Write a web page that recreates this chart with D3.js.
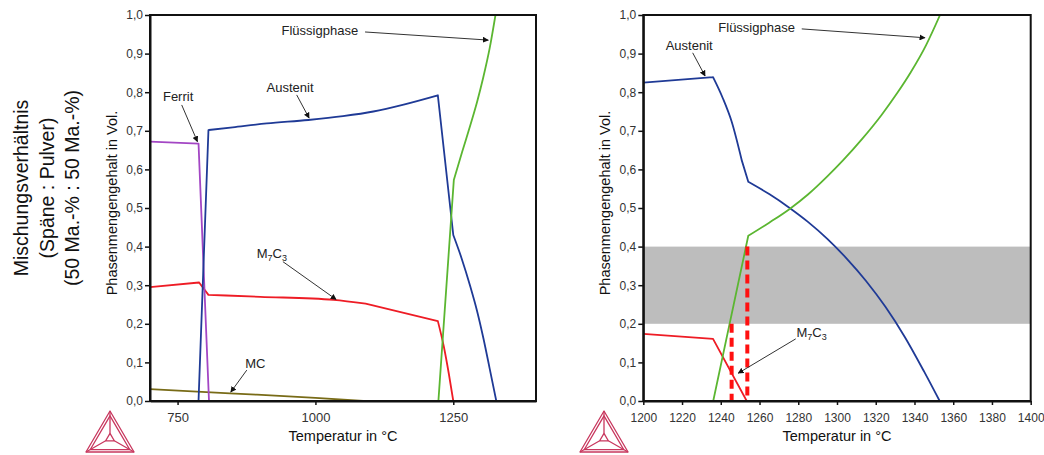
<!DOCTYPE html>
<html>
<head>
<meta charset="utf-8">
<script src="https://cdn.jsdelivr.net/npm/d3@7"></script>
<style>
  html, body { margin: 0; padding: 0; background: #fff; }
  svg { display: block; font-family: "Liberation Sans", Arial, sans-serif; }
</style>
</head>
<body>
<svg id="chart" width="1044" height="455"></svg>
<script>
// ---- Data: phase fractions (Vol.) over temperature (°C) ----
// Each phase is a list of pieces; a piece is drawn as one smooth run,
// pieces meet at the sharp bends of the curve.
const yTicks = [0, 0.1, 0.2, 0.3, 0.4, 0.5, 0.6, 0.7, 0.8, 0.9, 1.0];
const leftXTicks = [750, 1000, 1250];
const rightXTicks = [1200, 1220, 1240, 1260, 1280, 1300, 1320, 1340, 1360, 1380, 1400];

// Left panel (700–1400 °C)
const ferritL = [
  [[700, 0.672], [788, 0.667]],
  [[788, 0.667], [807, 0]]
];
const austenitL = [
  [[788, 0], [806, 0.702]],
  [[806, 0.702], [850, 0.709], [912, 0.719], [987, 0.728], [1050, 0.738], [1105, 0.750], [1160, 0.768], [1222, 0.792]],
  [[1222, 0.792], [1250, 0.430]],
  [[1250, 0.430], [1265, 0.370], [1281, 0.296], [1293, 0.234], [1305, 0.160], [1316, 0.084], [1328, 0]]
];
const fluessigL = [
  [[1223, 0], [1251, 0.573]],
  [[1251, 0.573], [1266, 0.645], [1281, 0.715], [1293, 0.774], [1304, 0.836], [1316, 0.914], [1326.5, 1.0]]
];
const m7c3L = [
  [[700, 0.295], [789, 0.307]],
  [[789, 0.307], [806, 0.275]],
  [[806, 0.275], [900, 0.270], [1033, 0.262], [1091, 0.252]],
  [[1091, 0.252], [1222, 0.207]],
  [[1222, 0.207], [1233, 0.140], [1242, 0.070], [1250, 0]]
];
const mcL = [
  [[700, 0.031], [845, 0.020], [1000, 0.008], [1087, 0]]
];

// Right panel (1200–1400 °C)
const austenitR = [
  [[1200, 0.825], [1236, 0.839]],
  [[1236, 0.839], [1241, 0.785], [1245.6, 0.724], [1250.8, 0.624]],
  [[1250.8, 0.624], [1254.2, 0.568]],
  [[1254.2, 0.568], [1265, 0.536], [1275, 0.502], [1285, 0.464], [1295, 0.420], [1305, 0.369],
   [1315, 0.311], [1325, 0.244], [1335, 0.166], [1345, 0.076], [1353, 0]]
];
const fluessigR = [
  [[1236.1, 0], [1254.2, 0.428]],
  [[1254.2, 0.428], [1265, 0.462], [1275.4, 0.497], [1285, 0.535], [1295, 0.582], [1303.2, 0.624],
   [1313, 0.679], [1323, 0.741], [1331, 0.797], [1338, 0.851], [1346, 0.922], [1353.2, 1.0]]
];
const m7c3R = [
  [[1200, 0.174], [1236, 0.161]],
  [[1236, 0.161], [1253.4, 0]]
];

// Target window (shaded band) and dashed temperature markers
const bandRange = [0.2, 0.4];
const dashTemps = [1245.6, 1253.7];
const dashTops = [0.2, 0.4];

// Annotation labels: text anchor and arrow (start -> tip), in data units
const notesL = [
  { text: "Flüssigphase", at: [1008, 0.961], from: [1090, 0.956], to: [1313.5, 0.935] },
  { text: "Austenit", at: [954, 0.813], from: [966, 0.793], to: [988.5, 0.733] },
  { text: "Ferrit", at: [751, 0.788], from: [757.5, 0.767], to: [786, 0.672] },
  { text: "M7C3", at: [921, 0.383], from: [941, 0.361], to: [1037.5, 0.263] },
  { text: "MC", at: [891, 0.098], from: [875.5, 0.080], to: [846.5, 0.023] }
];
const notesR = [
  { text: "Austenit", at: [1223.7, 0.922], from: [1225.5, 0.902], to: [1231.9, 0.842] },
  { text: "Flüssigphase", at: [1258.5, 0.969], from: [1281.8, 0.964], to: [1345.4, 0.941] },
  { text: "M7C3", at: [1286.9, 0.178], from: [1278.7, 0.161], to: [1249, 0.072] }
];

const titleLines = ["Mischungsverhältnis", "(Späne : Pulver)", "(50 Ma.-% : 50 Ma.-%)"];

// ---- Styling ----
const COL = {
  blue: "#1f3a96",
  green: "#5bb631",
  red: "#ee1c25",
  purple: "#a346c4",
  olive: "#786b17",
  band: "#bdbdbd",
  dash: "#ff1010",
  logo: "#c8375e",
  text: "#222"
};

const svg = d3.select("#chart");
const fmt = d3.formatLocale({ decimal: ",", thousands: ".", grouping: [3], currency: ["", ""] }).format(".1f");

svg.append("defs").append("marker")
  .attr("id", "arrowhead")
  .attr("viewBox", "0 0 10 10")
  .attr("refX", 9).attr("refY", 5)
  .attr("markerWidth", 6).attr("markerHeight", 6)
  .attr("markerUnits", "userSpaceOnUse")
  .attr("orient", "auto")
  .append("path").attr("d", "M0,0 L10,5 L0,10 z").attr("fill", "#111");

// Rotated side title
const title = svg.append("g").attr("transform", "translate(0,188)");
titleLines.forEach((t, i) => {
  title.append("text")
    .attr("transform", `translate(${21 + i * 25.5},0) rotate(-90)`)
    .attr("text-anchor", "middle")
    .attr("dominant-baseline", "central")
    .attr("font-size", 19.5)
    .attr("fill", "#111")
    .text(t);
});

function drawLogo(g) {
  // Thermo-Calc style triangle emblem, drawn in a 48 x 42 box
  const A = [24, 0], B = [0, 41], C = [48, 41];
  const cx = (A[0] + B[0] + C[0]) / 3, cy = (A[1] + B[1] + C[1]) / 3;
  const sc = (p, k) => [cx + (p[0] - cx) * k, cy + (p[1] - cy) * k];
  const tri = (k) => { const a = sc(A, k), b = sc(B, k), c = sc(C, k);
    return `M${a}L${b}L${c}Z`; };
  const st = { stroke: COL.logo, fill: "none", "stroke-width": 1.3, "stroke-linejoin": "round" };
  const add = d => { const p = g.append("path").attr("d", d); Object.entries(st).forEach(([k, v]) => p.attr(k, v)); };
  add(tri(1));
  add(tri(0.82));
  add(tri(0.18));
  [A, B, C].forEach(p => { const q = sc(p, 0.18); add(`M${p}L${q}`); });
}

function panel(cfg) {
  const x = d3.scaleLinear().domain(cfg.domain).range([cfg.x0, cfg.x1]);
  const y = d3.scaleLinear().domain([0, 1]).range([cfg.y1, cfg.y0]);
  const g = svg.append("g");

  // shaded band
  if (cfg.band) {
    g.append("rect")
      .attr("x", x(cfg.domain[0])).attr("width", x(cfg.domain[1]) - x(cfg.domain[0]))
      .attr("y", y(cfg.band[1])).attr("height", y(cfg.band[0]) - y(cfg.band[1]))
      .attr("fill", COL.band);
  }

  const line = d3.line().x(d => x(d[0])).y(d => y(d[1])).curve(d3.curveMonotoneX);
  const clipId = "clip" + cfg.id;
  svg.select("defs").append("clipPath").attr("id", clipId)
    .append("rect").attr("x", cfg.x0).attr("y", cfg.y0)
    .attr("width", cfg.x1 - cfg.x0).attr("height", cfg.y1 - cfg.y0);
  const lines = g.append("g").attr("clip-path", `url(#${clipId})`);
  cfg.series.forEach(s => {
    const d = s.data.map(piece => line(piece)).join("");
    lines.append("path")
      .attr("d", d)
      .attr("fill", "none")
      .attr("stroke", s.color)
      .attr("stroke-width", 1.8)
      .attr("stroke-linejoin", "round")
      .attr("stroke-linecap", "round");
  });

  // dashed temperature markers
  if (cfg.dashes) {
    cfg.dashes.temps.forEach((t, i) => {
      g.append("line")
        .attr("x1", x(t)).attr("x2", x(t))
        .attr("y1", y(cfg.dashes.tops[i])).attr("y2", y(0))
        .attr("stroke", COL.dash).attr("stroke-width", 4)
        .attr("stroke-dasharray", "9,5");
    });
  }

  // frame
  g.append("rect")
    .attr("x", cfg.x0).attr("y", cfg.y0)
    .attr("width", cfg.x1 - cfg.x0).attr("height", cfg.y1 - cfg.y0)
    .attr("fill", "none").attr("stroke", "#111").attr("stroke-width", 2);

  // axes
  const ax = g.append("g").attr("transform", `translate(${cfg.x0},0)`)
    .call(d3.axisLeft(y).tickValues(yTicks).tickFormat(fmt).tickSize(5).tickSizeOuter(0).tickPadding(2));
  const bx = g.append("g").attr("transform", `translate(0,${cfg.y1})`)
    .call(d3.axisBottom(x).tickValues(cfg.ticks).tickFormat(d3.format("d")).tickSize(4).tickSizeOuter(0).tickPadding(8));
  [ax, bx].forEach(a => {
    a.select(".domain").attr("stroke", "#111").attr("stroke-width", 2);
    a.selectAll(".tick line").attr("stroke", "#111").attr("stroke-width", 1.5);
    a.selectAll(".tick text").attr("fill", "#333").attr("font-size", 12)
      .attr("font-family", "'Liberation Sans', Arial, sans-serif");
  });
  bx.selectAll(".tick text").attr("font-size", cfg.xFont);

  // axis titles
  g.append("text")
    .attr("x", (cfg.x0 + cfg.x1) / 2).attr("y", 441)
    .attr("text-anchor", "middle").attr("font-size", 14.5).attr("fill", "#111")
    .text("Temperatur in °C");
  g.append("text")
    .attr("transform", `translate(${cfg.yTitleX},${(cfg.y0 + cfg.y1) / 2 - 5}) rotate(-90)`)
    .attr("text-anchor", "middle").attr("dominant-baseline", "central")
    .attr("font-size", 14.5).attr("fill", "#111")
    .text("Phasenmengengehalt in Vol.");

  // annotations
  cfg.notes.forEach(n => {
    g.append("line")
      .attr("x1", x(n.from[0])).attr("y1", y(n.from[1]))
      .attr("x2", x(n.to[0])).attr("y2", y(n.to[1]))
      .attr("stroke", "#333").attr("stroke-width", 1)
      .attr("marker-end", "url(#arrowhead)");
    const t = g.append("text")
      .attr("x", x(n.at[0])).attr("y", y(n.at[1]))
      .attr("text-anchor", "middle").attr("dy", "0.35em")
      .attr("font-size", 13).attr("fill", COL.text);
    if (n.text === "M7C3") {
      t.append("tspan").text("M");
      t.append("tspan").attr("font-size", 9).attr("dy", 3).text("7");
      t.append("tspan").attr("dy", -3).text("C");
      t.append("tspan").attr("font-size", 9).attr("dy", 3).text("3");
    } else {
      t.text(n.text);
    }
  });

  drawLogo(svg.append("g").attr("transform", `translate(${cfg.logo[0]},${cfg.logo[1]})`));
}

panel({
  id: "L", x0: 150, x1: 536, y0: 15, y1: 401, domain: [700, 1400], ticks: leftXTicks,
  xFont: 13, yTitleX: 112, logo: [86, 411], notes: notesL,
  series: [
    { data: mcL, color: COL.olive },
    { data: m7c3L, color: COL.red },
    { data: ferritL, color: COL.purple },
    { data: austenitL, color: COL.blue },
    { data: fluessigL, color: COL.green }
  ]
});

panel({
  id: "R", x0: 643.3, x1: 1030.7, y0: 15, y1: 401, domain: [1200, 1400], ticks: rightXTicks,
  xFont: 12, yTitleX: 605, logo: [580, 411], notes: notesR, band: bandRange,
  dashes: { temps: dashTemps, tops: dashTops },
  series: [
    { data: m7c3R, color: COL.red },
    { data: austenitR, color: COL.blue },
    { data: fluessigR, color: COL.green }
  ]
});
</script>
</body>
</html>
